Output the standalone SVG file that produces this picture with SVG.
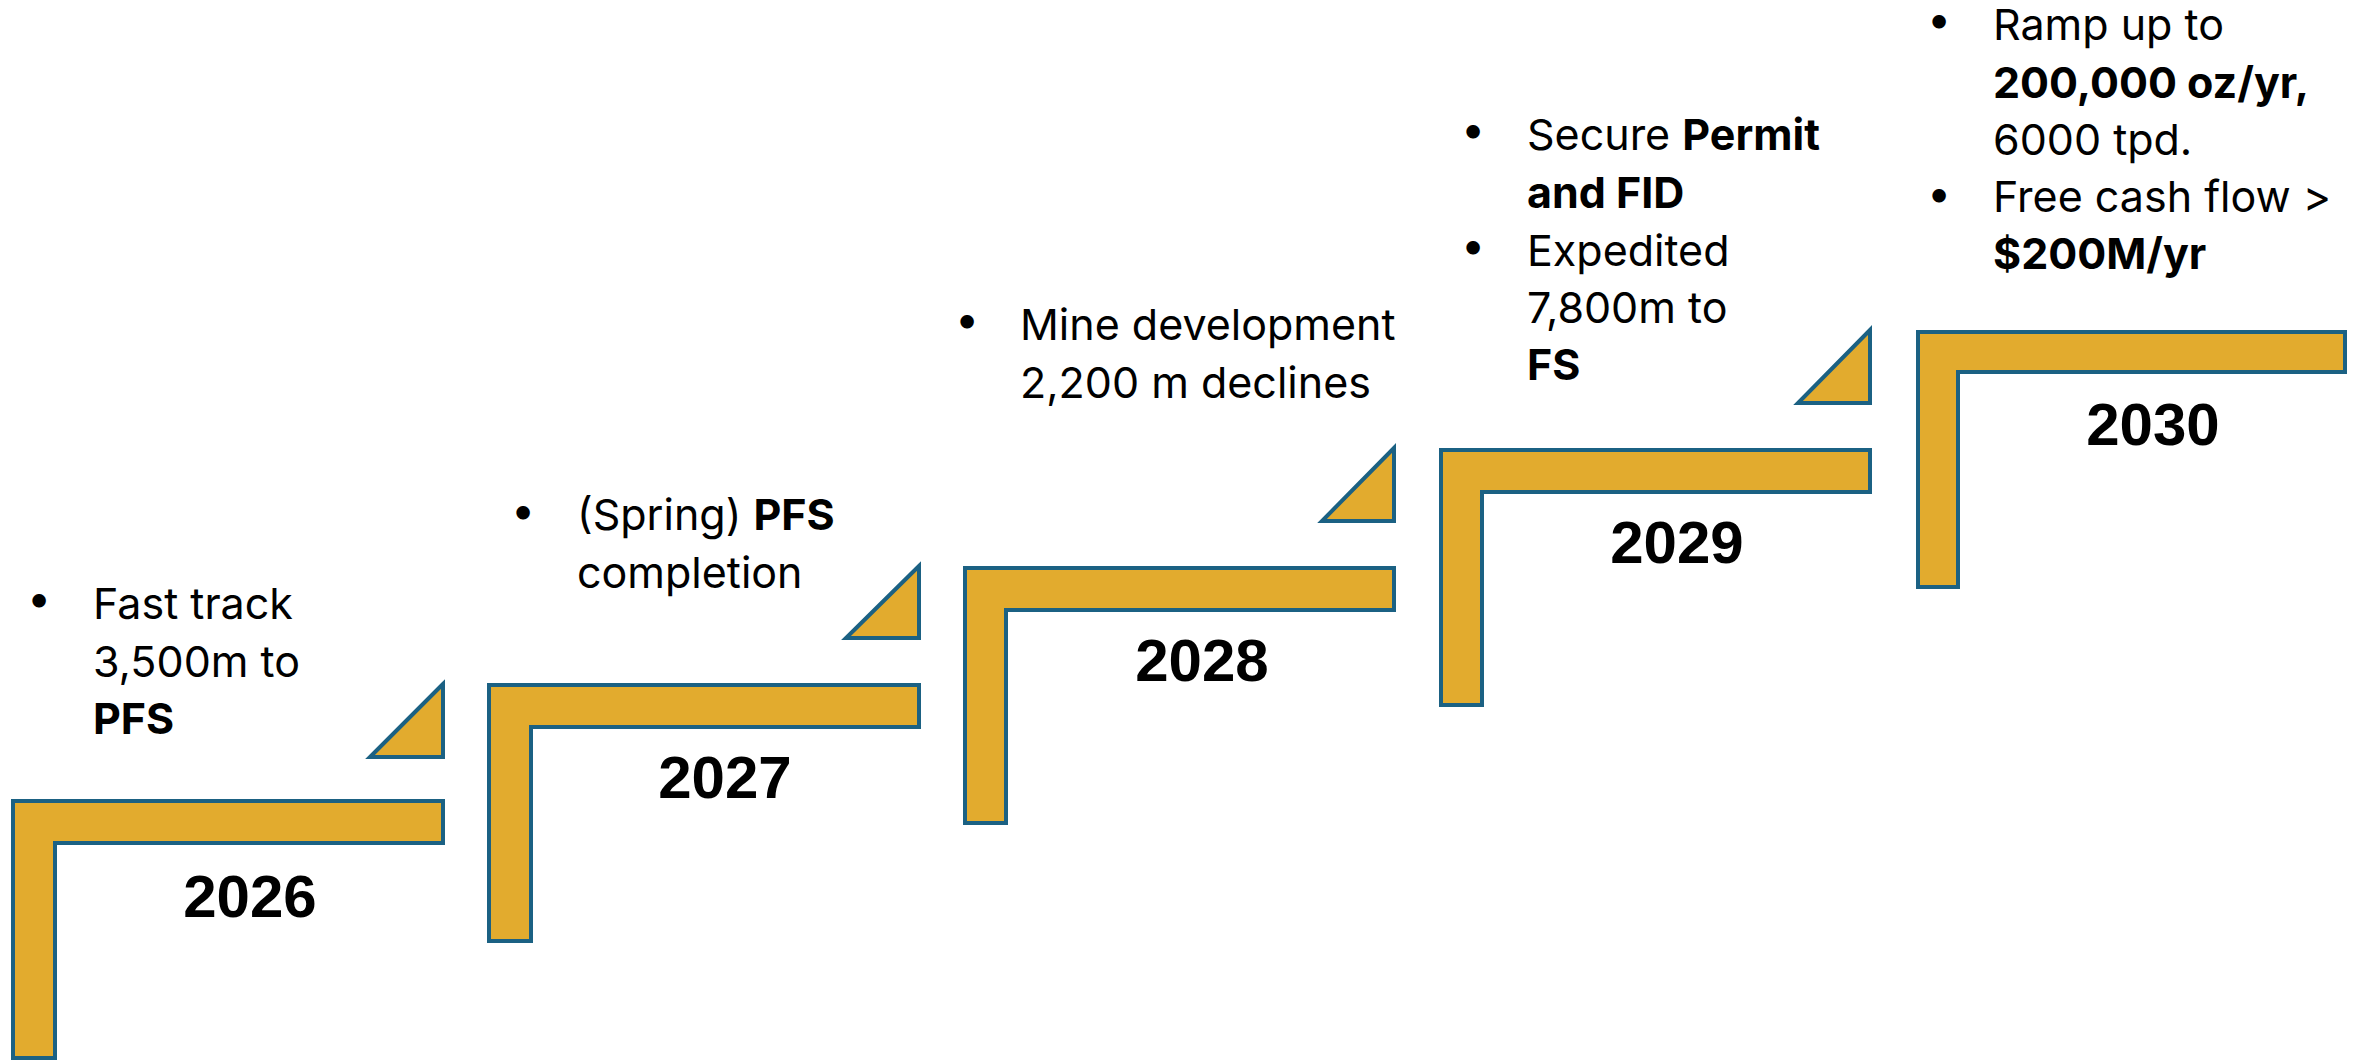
<svg xmlns="http://www.w3.org/2000/svg" width="2361" height="1060" viewBox="0 0 2361 1060">
<style>
.step{fill:#E2AB2E;stroke:#1B6183;stroke-width:4;stroke-linejoin:miter}
.yr{font-family:"Liberation Sans",Arial,sans-serif;font-weight:bold;font-size:60px;fill:#000;text-anchor:middle}
.tx{font-family:Inter,"Open Sans",sans-serif;font-size:43px;fill:#000}
.bl{font-family:Inter,"Open Sans",sans-serif;font-size:43px;fill:#000;text-anchor:middle}
.b{font-weight:bold}
</style>
<rect width="2361" height="1060" fill="#fff"/>
<g id="step2026">
<path class="step" d="M13,801 H443 V843 H55 V1058 H13 Z"/>
<path class="step" d="M443,684 L370,757 H443 Z"/>
<text class="yr" x="250" y="917">2026</text>
<text class="bl" x="39" y="613">•</text>
<text class="tx" x="93" y="619">Fast track</text>
<text class="tx" x="93" y="677">3,500m to</text>
<text class="tx b" x="93" y="734">PFS</text>
</g>
<g id="step2027">
<path class="step" d="M489,685 H919 V727 H531 V941 H489 Z"/>
<path class="step" d="M919,566 L846,638 H919 Z"/>
<text class="yr" x="725" y="798">2027</text>
<text class="bl" x="523" y="525">•</text>
<text class="tx" x="577" y="530">(Spring) <tspan class="b">PFS</tspan></text>
<text class="tx" x="577" y="588">completion</text>
</g>
<g id="step2028">
<path class="step" d="M965,568 H1394 V610 H1006 V823 H965 Z"/>
<path class="step" d="M1394,448 L1322,521 H1394 Z"/>
<text class="yr" x="1202" y="681">2028</text>
<text class="bl" x="967" y="334">•</text>
<text class="tx" x="1020" y="340">Mine development</text>
<text class="tx" x="1020" y="398">2,200 m declines</text>
</g>
<g id="step2029">
<path class="step" d="M1441,450 H1870 V492 H1482 V705 H1441 Z"/>
<path class="step" d="M1870,330 L1798,403 H1870 Z"/>
<text class="yr" x="1677" y="563">2029</text>
<text class="bl" x="1473" y="144">•</text>
<text class="tx" x="1527" y="150">Secure <tspan class="b">Permit</tspan></text>
<text class="tx b" x="1527" y="208">and FID</text>
<text class="bl" x="1473" y="260">•</text>
<text class="tx" x="1527" y="266">Expedited</text>
<text class="tx" x="1527" y="323">7,800m to</text>
<text class="tx b" x="1527" y="380">FS</text>
</g>
<g id="step2030">
<path class="step" d="M1918,332 H2345 V372 H1958 V587 H1918 Z"/>
<text class="yr" x="2153" y="445">2030</text>
<text class="bl" x="1939" y="34">•</text>
<text class="tx" x="1993" y="40">Ramp up to</text>
<text class="tx b" x="1993" y="98">200,000 oz/yr,</text>
<text class="tx" x="1993" y="155">6000 tpd.</text>
<text class="bl" x="1939" y="208">•</text>
<text class="tx" x="1993" y="212">Free cash flow &gt;</text>
<text class="tx b" x="1993" y="269">$200M/yr</text>
</g>
<g id="connectors"/>
</svg>
